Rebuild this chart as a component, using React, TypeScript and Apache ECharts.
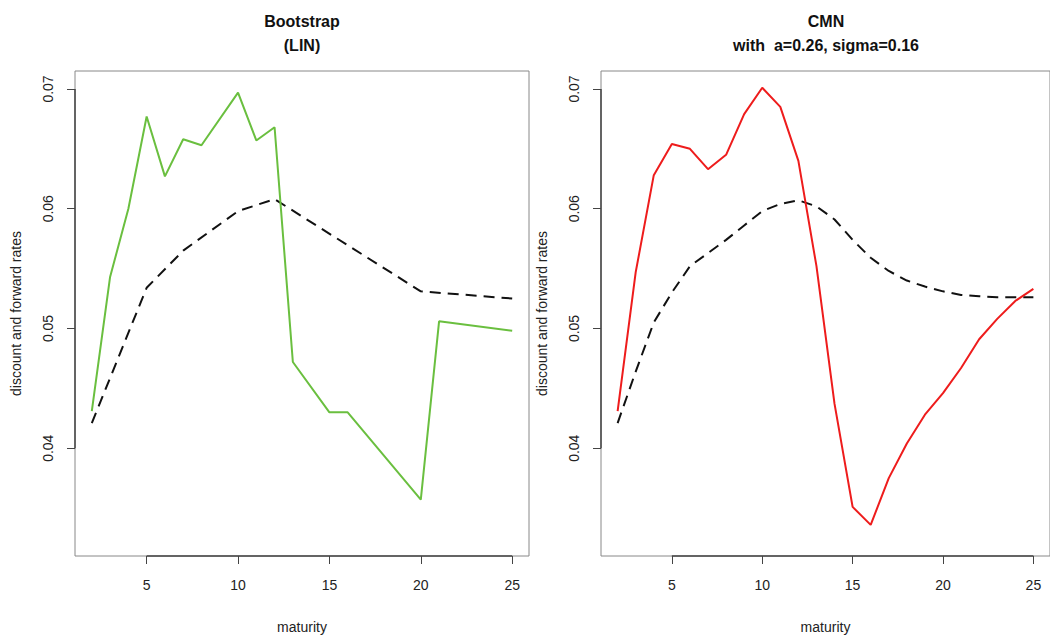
import React, { useEffect, useRef } from "react";
import * as echarts from "echarts";

// Left panel: Bootstrap (LIN)
const maturityLin = [2, 3, 4, 5, 6, 7, 8, 10, 11, 12, 13, 15, 16, 20, 21, 25];
const bootstrapLin = [0.0431, 0.0543, 0.0600, 0.0677, 0.0627, 0.0658, 0.0653, 0.0697, 0.0657, 0.0668, 0.0472, 0.0430, 0.0430, 0.0357, 0.0506, 0.0498];
const maturityDiscLeft = [2, 5, 7, 10, 12, 20, 25];
const discountLeft = [0.0421, 0.0534, 0.0565, 0.0598, 0.0608, 0.0531, 0.0525];

// Right panel: CMN
const maturityCmn = [2, 3, 4, 5, 6, 7, 8, 9, 10, 11, 12, 13, 14, 15, 16, 17, 18, 19, 20, 21, 22, 23, 24, 25];
const cmnForward = [0.0431, 0.0547, 0.0628, 0.0654, 0.0650, 0.0633, 0.0645, 0.0679, 0.0701, 0.0685, 0.0640, 0.0552, 0.0437, 0.0351, 0.0336, 0.0375, 0.0404, 0.0428, 0.0446, 0.0467, 0.0491, 0.0508, 0.0523, 0.0533];
const cmnDiscount = [0.0421, 0.0464, 0.0505, 0.0530, 0.0552, 0.0563, 0.0574, 0.0586, 0.0598, 0.0604, 0.0607, 0.0602, 0.0591, 0.0574, 0.0559, 0.0548, 0.0540, 0.0535, 0.0531, 0.0528, 0.0527, 0.0526, 0.0526, 0.0526];

const xTicks = [5, 10, 15, 20, 25];
const yTicks = [0.04, 0.05, 0.06, 0.07];
const xRange = [1.08, 25.92];
const yRange = [0.0310, 0.0715];

const FONT = "'Liberation Sans', Arial, Helvetica, sans-serif";

function zip(xs: number[], ys: number[]) {
  return xs.map((x, i) => [x, ys[i]]);
}

export default function App() {
  const ref = useRef<HTMLDivElement>(null);
  useEffect(() => {
    document.body.style.margin = "0";
    const chart = echarts.init(ref.current!, null, { renderer: "svg" });
    const grids = [
      { left: 75, top: 71, width: 454, height: 487 },
      { left: 601, top: 71, width: 453, height: 487 },
    ];
    const xAxis = grids.map((_, i) => ({
      type: "value",
      gridIndex: i,
      min: xRange[0],
      max: xRange[1],
      name: "maturity",
      nameLocation: "middle",
      nameGap: 64,
      nameTextStyle: { fontFamily: FONT, fontSize: 14, color: "#222" },
      splitLine: { show: false },
      axisLine: { show: false },
      axisTick: { show: true, inside: false, length: 8, customValues: xTicks, lineStyle: { color: "#444", width: 1 } },
      axisLabel: { customValues: xTicks, margin: 22, fontFamily: FONT, fontSize: 14, color: "#222" },
    }));
    const yAxis = grids.map((_, i) => ({
      type: "value",
      gridIndex: i,
      min: yRange[0],
      max: yRange[1],
      name: "discount and forward rates",
      nameLocation: "middle",
      nameGap: 52,
      nameTextStyle: { fontFamily: FONT, fontSize: 14, color: "#222" },
      splitLine: { show: false },
      axisLine: { show: false },
      axisTick: { show: true, inside: false, length: 8, customValues: yTicks, lineStyle: { color: "#444", width: 1 } },
      axisLabel: {
        customValues: yTicks,
        rotate: 90,
        margin: 20,
        fontFamily: FONT,
        fontSize: 14,
        color: "#222",
        formatter: (v: number) => v.toFixed(2),
      },
    }));
    const dash = { type: [11, 7] as any, color: "#111", width: 2 };
    const axisSegments = {
      silent: true,
      symbol: "none",
      label: { show: false },
      lineStyle: { color: "#444", width: 1.5, type: "solid" },
      data: [
        [{ coord: [xRange[0], yTicks[0]] }, { coord: [xRange[0], yTicks[yTicks.length - 1]] }],
        [{ coord: [xTicks[0], yRange[0]] }, { coord: [xTicks[xTicks.length - 1], yRange[0]] }],
      ],
    };
    chart.setOption({
      animation: false,
      backgroundColor: "#ffffff",
      grid: grids.map((g) => ({ ...g, show: true, borderColor: "#888", borderWidth: 1, backgroundColor: "transparent" })),
      xAxis,
      yAxis,
      graphic: [
        { type: "text", x: 302, y: 21, style: { text: "Bootstrap", fontFamily: FONT, fontSize: 16, fontWeight: "bold", fill: "#111", textAlign: "center", textVerticalAlign: "middle" } },
        { type: "text", x: 302, y: 45, style: { text: "(LIN)", fontFamily: FONT, fontSize: 16, fontWeight: "bold", fill: "#111", textAlign: "center", textVerticalAlign: "middle" } },
        { type: "text", x: 826, y: 21, style: { text: "CMN", fontFamily: FONT, fontSize: 16, fontWeight: "bold", fill: "#111", textAlign: "center", textVerticalAlign: "middle" } },
        { type: "text", x: 826, y: 45, style: { text: "with  a=0.26, sigma=0.16", fontFamily: FONT, fontSize: 16, fontWeight: "bold", fill: "#111", textAlign: "center", textVerticalAlign: "middle" } },
      ],
      series: [
        { type: "line", xAxisIndex: 0, yAxisIndex: 0, clip: false, data: zip(maturityDiscLeft, discountLeft), symbol: "none", lineStyle: dash, silent: true, markLine: axisSegments },
        { type: "line", xAxisIndex: 0, yAxisIndex: 0, data: zip(maturityLin, bootstrapLin), symbol: "none", lineStyle: { color: "#6abf3f", width: 2 }, silent: true },
        { type: "line", xAxisIndex: 1, yAxisIndex: 1, clip: false, data: zip(maturityCmn, cmnDiscount), symbol: "none", lineStyle: dash, silent: true, markLine: axisSegments },
        { type: "line", xAxisIndex: 1, yAxisIndex: 1, data: zip(maturityCmn, cmnForward), symbol: "none", lineStyle: { color: "#ee1c1c", width: 2 }, silent: true },
      ],
    });
    return () => chart.dispose();
  }, []);
  return <div ref={ref} style={{ width: 1050, height: 639 }} />;
}
